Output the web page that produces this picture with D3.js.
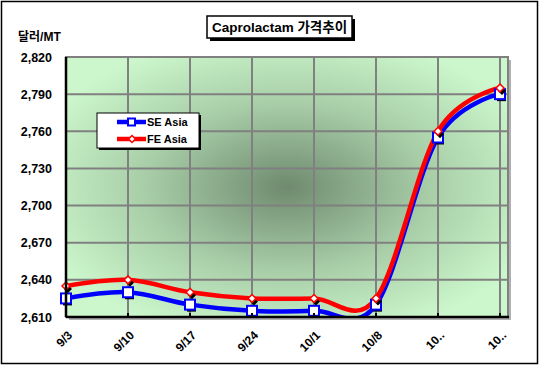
<!DOCTYPE html>
<html>
<head>
<meta charset="utf-8">
<script src="https://cdn.jsdelivr.net/npm/d3@7"></script>
<style>
  body { margin: 0; background: #fff; }
  text { font-family: "Liberation Sans", Arial, "Noto Sans CJK KR", sans-serif; }
</style>
</head>
<body>
<div class="chart"></div>
<script>
const categories = ["9/3", "9/10", "9/17", "9/24", "10/1", "10/8", "10..", "10.."];
const seAsia = [2625, 2630, 2620, 2615, 2615, 2620, 2755, 2790];
const feAsia = [2635, 2640, 2630, 2625, 2625, 2625, 2760, 2795];
const yTicks = [2610, 2640, 2670, 2700, 2730, 2760, 2790, 2820];

const W = 539, H = 368;
const margin = { top: 57, right: 31, bottom: 51, left: 66 };
const width = W - margin.left - margin.right;
const height = H - margin.top - margin.bottom;
const step = 62;

const svg = d3.select(".chart").append("svg").attr("width", W).attr("height", H);

const defs = svg.append("defs");
const grad = defs.append("radialGradient").attr("id", "bg")
  .attr("cx", "0.5").attr("cy", "0.5").attr("r", "0.6");
grad.append("stop").attr("offset", "0%").attr("stop-color", "#6f8a6f");
grad.append("stop").attr("offset", "55%").attr("stop-color", "#a9cfa9");
grad.append("stop").attr("offset", "100%").attr("stop-color", "#ccf7cc");
defs.append("clipPath").attr("id", "clip").append("rect")
  .attr("width", width).attr("height", height);

// outer frame
svg.append("rect").attr("x", 1.5).attr("y", 1.5).attr("width", W - 3).attr("height", H - 6)
  .attr("fill", "#fff").attr("stroke", "#000").attr("stroke-width", 1.5);

const g = svg.append("g").attr("transform", `translate(${margin.left},${margin.top})`);

const x = d3.scalePoint().domain(d3.range(categories.length))
  .range([0, step * (categories.length - 1)]);
const y = d3.scaleLinear().domain([2610, 2820]).range([height, 0]);

// plot area shadow + background
g.append("rect").attr("x", 3).attr("y", 3).attr("width", width).attr("height", height).attr("fill", "#b0b0b0");
g.append("rect").attr("width", width).attr("height", height).attr("fill", "url(#bg)");

// gridlines
g.append("g").selectAll("line").data(yTicks).join("line")
  .attr("x1", 0).attr("x2", width).attr("y1", d => y(d)).attr("y2", d => y(d))
  .attr("stroke", "#808080").attr("stroke-width", 2);
g.append("g").selectAll("line").data(d3.range(categories.length)).join("line")
  .attr("x1", d => x(d)).attr("x2", d => x(d)).attr("y1", 0).attr("y2", height)
  .attr("stroke", "#808080").attr("stroke-width", 2);
g.append("rect").attr("width", width).attr("height", height)
  .attr("fill", "none").attr("stroke", "#808080").attr("stroke-width", 2);

// series
const line = d3.line().x((d, i) => x(i)).y(d => y(d)).curve(d3.curveCardinal.tension(0));
const series = [
  { name: "SE Asia", values: seAsia, color: "#0000ff", marker: "square" },
  { name: "FE Asia", values: feAsia, color: "#ff0000", marker: "diamond" }
];
const plot = g.append("g").attr("clip-path", "url(#clip)");
series.forEach(s => {
  plot.append("path").datum(s.values).attr("d", line)
    .attr("fill", "none").attr("stroke", s.color).attr("stroke-width", 4.5);
});

function drawMarker(sel, s, cx, cy) {
  if (s.marker === "square") {
    sel.append("rect").attr("x", cx - 3).attr("y", cy - 2).attr("width", 9).attr("height", 9).attr("fill", "#000");
    sel.append("rect").attr("x", cx - 5).attr("y", cy - 5).attr("width", 10).attr("height", 10)
      .attr("fill", "#fff").attr("stroke", s.color).attr("stroke-width", 2);
  } else {
    sel.append("path").attr("d", d3.symbol(d3.symbolDiamond2, 40)()).attr("transform", `translate(${cx + 2},${cy + 3})`).attr("fill", "#000");
    sel.append("path").attr("d", d3.symbol(d3.symbolDiamond2, 40)()).attr("transform", `translate(${cx},${cy})`)
      .attr("fill", "#fff").attr("stroke", s.color).attr("stroke-width", 1.5);
  }
}
series.forEach(s => {
  const mg = g.append("g");
  s.values.forEach((v, i) => drawMarker(mg, s, x(i), y(v)));
});

// axes
g.append("line").attr("x1", 0).attr("x2", 0).attr("y1", 0).attr("y2", height).attr("stroke", "#000").attr("stroke-width", 2.5);
g.append("line").attr("x1", 0).attr("x2", width + 1).attr("y1", height).attr("y2", height).attr("stroke", "#000").attr("stroke-width", 2.5);
g.append("g").selectAll("line").data(d3.range(categories.length)).join("line")
  .attr("x1", d => x(d)).attr("x2", d => x(d)).attr("y1", height).attr("y2", height - 4)
  .attr("stroke", "#000").attr("stroke-width", 2);

g.append("g").selectAll("text").data(yTicks).join("text")
  .attr("x", -14).attr("y", d => y(d)).attr("dy", "0.36em").attr("text-anchor", "end")
  .attr("font-size", 12.5).attr("font-weight", "bold")
  .text(d => d3.format(",")(d));

g.append("g").selectAll("text").data(categories).join("text")
  .attr("text-anchor", "end").attr("font-size", 12).attr("font-weight", "bold")
  .attr("transform", (d, i) => `translate(${x(i) + 7},${height + 19}) rotate(-45)`)
  .text(d => d);

svg.append("text").attr("x", 18).attr("y", 41).attr("font-size", 12).attr("font-weight", "bold")
  .text("달러/MT");

// title
const tx = 207, ty = 16, tw = 145, th = 22;
svg.append("rect").attr("x", tx + 3).attr("y", ty + 3).attr("width", tw).attr("height", th).attr("fill", "#000");
svg.append("rect").attr("x", tx).attr("y", ty).attr("width", tw).attr("height", th)
  .attr("fill", "#fff").attr("stroke", "#000").attr("stroke-width", 1.5);
svg.append("text").attr("x", tx + tw / 2).attr("y", ty + 16).attr("text-anchor", "middle")
  .attr("font-size", 13.5).attr("font-weight", "bold").text("Caprolactam 가격추이");

// legend
const lx = 97, ly = 113, lw = 102, lh = 35;
svg.append("rect").attr("x", lx + 2).attr("y", ly + 2).attr("width", lw).attr("height", lh).attr("fill", "#000");
svg.append("rect").attr("x", lx).attr("y", ly).attr("width", lw).attr("height", lh)
  .attr("fill", "#fff").attr("stroke", "#000").attr("stroke-width", 1);
series.forEach((s, i) => {
  const cy = ly + 9 + i * 17;
  svg.append("line").attr("x1", lx + 20).attr("x2", lx + 49).attr("y1", cy).attr("y2", cy)
    .attr("stroke", s.color).attr("stroke-width", 4.5);
  if (s.marker === "square") {
    svg.append("rect").attr("x", lx + 31).attr("y", cy - 3.5).attr("width", 7).attr("height", 7)
      .attr("fill", "#fff").attr("stroke", s.color).attr("stroke-width", 2);
  } else {
    svg.append("path").attr("d", d3.symbol(d3.symbolDiamond2, 30)()).attr("transform", `translate(${lx + 35},${cy})`)
      .attr("fill", "#fff").attr("stroke", s.color).attr("stroke-width", 1.5);
  }
  svg.append("text").attr("x", lx + 50).attr("y", cy + 4).attr("font-size", 11).attr("font-weight", "bold")
    .text(s.name);
});
</script>
</body>
</html>
